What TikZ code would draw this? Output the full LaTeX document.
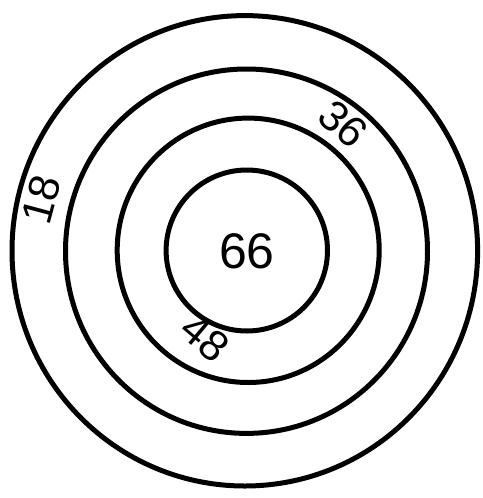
\documentclass[tikz,border=0pt]{standalone}
\usepackage{fontspec}
\setmainfont{Liberation Sans}
\begin{document}
\begin{tikzpicture}[x=1pt,y=-1pt,
  ring/.style={draw=black,line width=5pt},
  lbl/.style={inner sep=0pt,font=\fontsize{43}{43}\selectfont},
  biglbl/.style={inner sep=0pt,font=\fontsize{50}{50}\selectfont}]
\useasboundingbox (0,0) rectangle (482,498);
\draw[ring] (244.8,250.8) ellipse [x radius=232.8,y radius=235.2];
\draw[ring] (246.5,251.2) ellipse [x radius=181,y radius=182.2];
\draw[ring] (248.2,250.3) ellipse [x radius=131,y radius=132.2];
\draw[ring] (246.8,250.5) ellipse [x radius=80.7,y radius=80.5];
\node[biglbl] (c66) at (247,251) {66};
\node[lbl,rotate=-42] (c36) at (343,124) {36};
\node[lbl,rotate=75] (c18) at (41,200) {18};
\node[lbl,rotate=-40] (c48) at (205,338) {48};
\end{tikzpicture}
\end{document}
